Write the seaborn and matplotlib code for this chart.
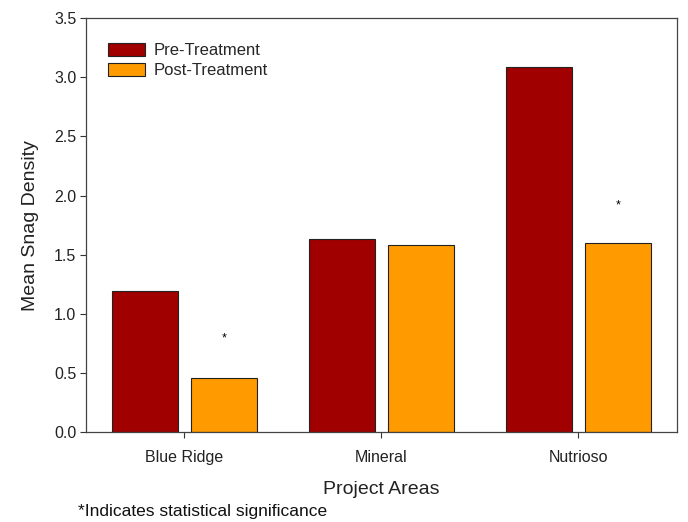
import matplotlib
matplotlib.use("Agg")
import matplotlib.pyplot as plt
import seaborn as sns
import pandas as pd

areas = ["Blue Ridge", "Mineral", "Nutrioso"]
pre_treatment = [1.19, 1.63, 3.09]
post_treatment = [0.46, 1.58, 1.60]
significant = [True, False, True]
star_heights = [0.79, None, 1.92]
series_names = ["Pre-Treatment", "Post-Treatment"]
colors = ["#A00000", "#FF9A00"]

df = pd.DataFrame({
    "area": areas * 2,
    "treatment": [series_names[0]] * 3 + [series_names[1]] * 3,
    "density": pre_treatment + post_treatment,
})

sns.set_style("ticks")
plt.rcParams["font.family"] = ["Liberation Sans", "DejaVu Sans"]

fig = plt.figure(figsize=(6.88, 5.22), dpi=100)
ax = fig.add_axes([0.125, 0.172, 0.859, 0.7935])

sns.barplot(data=df, x="area", y="density", hue="treatment", order=areas,
            hue_order=series_names, palette=colors, width=0.8, gap=0.16,
            edgecolor="#222222", linewidth=0.8, saturation=1, ax=ax)

# significance asterisks above post-treatment bars
post_bars = ax.containers[1]
for bar, sig, h in zip(post_bars, significant, star_heights):
    if sig:
        cx = bar.get_x() + bar.get_width() / 2
        ax.text(cx, h, "*", ha="center", va="center", fontsize=9, color="black")

ax.set_xlim(-0.5, 2.5)
ax.set_ylim(0, 3.5)
ax.set_yticks([0, 0.5, 1.0, 1.5, 2.0, 2.5, 3.0, 3.5])
ax.set_yticklabels([f"{v:.1f}" for v in [0, 0.5, 1.0, 1.5, 2.0, 2.5, 3.0, 3.5]])
ax.tick_params(axis="both", labelsize=11.5, length=4, width=0.8, colors="#333333",
               labelcolor="#222222")
ax.tick_params(axis="x", pad=9)
ax.tick_params(axis="y", pad=3)
ax.set_xlabel("Project Areas", fontsize=14, labelpad=11, color="#222222")
ax.set_ylabel("Mean Snag Density", fontsize=14, labelpad=11, color="#222222")
for s in ax.spines.values():
    s.set_visible(True)
    s.set_color("#444444")
    s.set_linewidth(0.9)

leg = ax.legend(loc="upper left", frameon=False, fontsize=12, title=None,
                bbox_to_anchor=(0.012, 0.975), handlelength=2.2, handleheight=0.75,
                labelspacing=0.3, handletextpad=0.55)

fig.text(0.113, 0.012, "*Indicates statistical significance", fontsize=12.5,
         color="#111111")

fig.savefig("out.png", dpi=100)
